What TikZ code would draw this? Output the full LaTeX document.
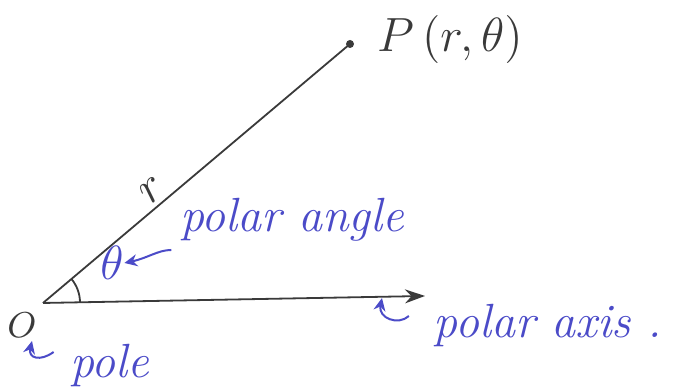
\documentclass[tikz,border=0pt]{standalone}
\usepackage{tikz}
\usetikzlibrary{arrows.meta,calc}
\definecolor{ink}{HTML}{4B4BC8}
\definecolor{pencil}{HTML}{3A3A3A}
\begin{document}
\begin{tikzpicture}[x=0.25pt,y=-0.25pt,
  lbl/.style={inner sep=0pt,font=\fontsize{12}{14}\selectfont\itshape},
  bluelbl/.style={lbl,text=ink},
  geo/.style={draw=pencil,line width=0.45pt},
  hook/.style={draw=ink,line width=0.5pt,-{Stealth[length=3.2pt,width=3pt]}}]
\useasboundingbox (0,0) rectangle (687,391);
\coordinate (O) at (43,303);
\coordinate (P) at (350,44);
\coordinate (X) at (425,296);
\coordinate (poleTip) at (32,341);
\coordinate (axTip) at (382,298);
\draw[geo,-{Stealth[length=5pt,width=3.5pt]}] (O) -- (X);
\draw[geo] (O) -- (P);
\fill[pencil] (P) circle[radius=4];
\draw[geo] ($(O)+(37,-1)$) arc[start angle=-1,end angle=-40,radius=37];
\node[lbl,text=pencil] (Plbl) at (450,40) {$P\,(r,\theta)$};
\node[lbl,text=pencil,rotate=40] (rlbl) at (152,190) {$r$};
\node[lbl,text=pencil,font=\fontsize{9}{11}\selectfont] (Olbl) at (22,325) {$O$};
\node[bluelbl] (th) at (112,263) {$\theta$};
\node[bluelbl] (pa) at (292,220) {polar angle};
\node[bluelbl] (pole) at (110,366) {pole};
\node[bluelbl] (pax) at (548,326) {polar axis .};
\draw[hook] (pa.west) ++(-8,30) .. controls (158,250) and (148,258) .. (th.east);
\draw[hook] (pole.west) ++(-16,-14) .. controls (40,362) and (28,358) .. (poleTip);
\draw[hook] (pax.west) ++(-24,-10) .. controls (398,326) and (378,318) .. (axTip);
\end{tikzpicture}
\end{document}
